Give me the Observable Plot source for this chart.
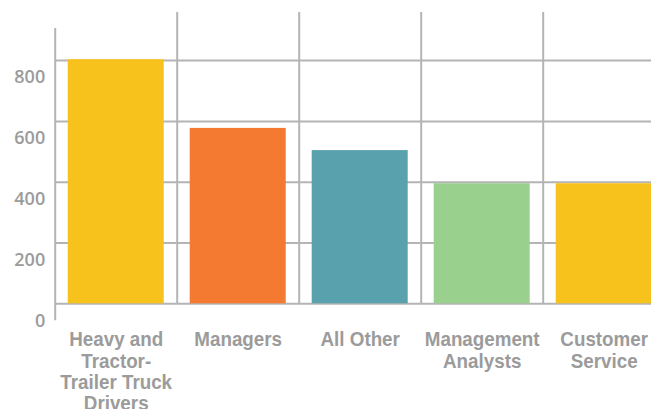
<!DOCTYPE html>
<html><head><meta charset="utf-8">
<script src="https://cdn.jsdelivr.net/npm/d3@7"></script>
<script src="https://cdn.jsdelivr.net/npm/@observablehq/plot@0.6"></script>
<style>
html,body{margin:0;padding:0;background:#fff;overflow:hidden;}
#chart{width:651px;height:409px;overflow:hidden;position:relative;}
#chart svg{display:block;}
</style></head><body><div id="chart"></div>
<script>
// ---- data ----
const categories = ["Heavy and Tractor-Trailer Truck Drivers", "Managers", "All Other", "Management Analysts", "Customer Service"];
const tickLabels = ["Heavy and\nTractor-\nTrailer Truck\nDrivers", "Managers", "All Other", "Management\nAnalysts", "Customer\nService"];
const values = [803, 577, 504, 395, 395];
const yTicks = [0, 200, 400, 600, 800];
const barColors = ["#F8C21D", "#F47A31", "#59A1AD", "#99D08E", "#F8C21D"];

// ---- layout / style ----
const W = 651, H = 409;
const left = 54.7, step = 122, baseY = 303.3, topY = 60.1;
const gridColor = "#b4b4b4";
const textGray = "#9b9b9b";
const narrow = 0.94; // slight horizontal squeeze to imitate a condensed face

const data = categories.map((c, i) => ({cat: c, value: values[i]}));
const labelOf = new Map(categories.map((c, i) => [c, tickLabels[i]]));

const chart = Plot.plot({
  width: W,
  height: H,
  marginLeft: left,
  marginRight: 0,
  marginTop: 12,
  marginBottom: H - baseY,
  x: {type: "band", domain: categories, range: [left, left + step * categories.length], paddingInner: 0.213, paddingOuter: 0.1066, round: false},
  y: {domain: [0, 800], range: [baseY, topY]},
  color: {domain: categories, range: barColors},
  marks: [
    Plot.ruleY(yTicks, {stroke: gridColor, strokeWidth: 2}),
    Plot.ruleX(categories.slice(1), {dx: -step / 2, stroke: gridColor, strokeWidth: 2}),
    Plot.ruleX(categories.slice(0, 1), {dx: -step / 2, stroke: gridColor, strokeWidth: 2, insetTop: 16, insetBottom: -17}),
    Plot.barY(data, {x: "cat", y: "value", fill: "cat"}),
    Plot.axisY({ticks: yTicks, tickSize: 0, tickPadding: 10, dy: 17, label: null,
      fontSize: 18, fontWeight: 600, fontFamily: "Open Sans, Lato, sans-serif", fill: textGray}),
    Plot.axisX({tickSize: 0, tickPadding: 27.5, label: null, tickFormat: d => labelOf.get(d),
      lineHeight: 1.065, fontSize: 20, fontWeight: "bold",
      fontFamily: "Liberation Sans, Arial, sans-serif", fill: textGray})
  ]
});
chart.style.overflow = "hidden";
// squeeze x tick labels horizontally (condensed look), centred on their anchor
d3.select(chart).selectAll('g[aria-label="x-axis tick label"] text').each(function() {
  const t = this.getAttribute("transform") || "";
  this.setAttribute("transform", t + ` scale(${narrow},1)`);
});
document.getElementById("chart").appendChild(chart);
</script>
</body></html>
